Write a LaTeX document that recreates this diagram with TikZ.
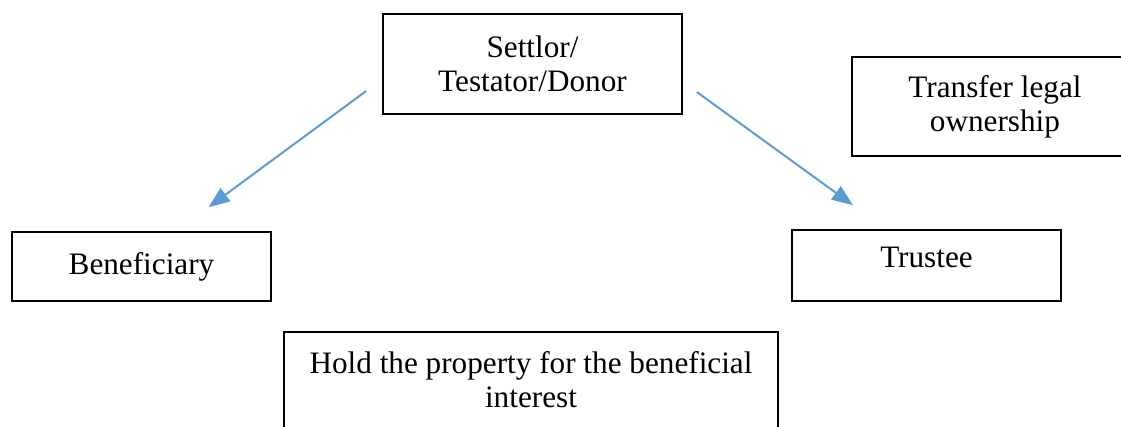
\documentclass[tikz,border=0pt]{standalone}
\usepackage{fontspec}
\setmainfont{Liberation Serif}
\usetikzlibrary{arrows.meta,calc}
\definecolor{linkblue}{RGB}{91,155,213}
\begin{document}
\begin{tikzpicture}[x=0.025cm,y=-0.025cm,
  box/.style={draw,line width=1.1pt,align=center,inner sep=0pt,font=\fontsize{22.2}{24.3}\selectfont},
  link/.style={-{Triangle[length=15pt,width=11.5pt]},draw=linkblue,line width=1.4pt}]
  \useasboundingbox (0,0) rectangle (1121,427);

    %parties
    \node (settlor) at (532.5,64)[box,minimum width=212.7pt,minimum height=71.1pt]{Settlor/\\Testator/Donor};
    \node (benef) at (141.5,266.5)[box,minimum width=184.2pt,minimum height=49.1pt]{Beneficiary};
    \node (trustee) at (926.5,265.5)[box,minimum width=191.3pt,minimum height=50.5pt,text depth=12pt]{Trustee};

    %notes
    \node (transfer) at (995,106.5)[box,minimum width=203.4pt,minimum height=70.4pt]{Transfer legal\\ownership};
    \node (hold) at (531,380)[box,minimum width=351.4pt,minimum height=68.3pt]{Hold the property for the beneficial\\interest};

    %arrows
    \draw [link] ($(settlor.west)+(-16,27)$) to ($(benef.north)+(67,-24)$);
    \draw [link] ($(settlor.east)+(14,28)$) to ($(trustee.north)+(-73.5,-24)$);
  \end{tikzpicture}
\end{document}
